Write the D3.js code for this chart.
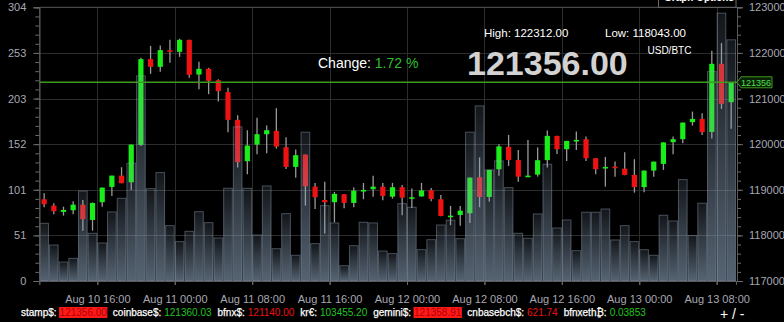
<!DOCTYPE html>
<html>
<head>
<meta charset="utf-8">
<script src="https://cdn.jsdelivr.net/npm/d3@7"></script>
<style>
  html, body { margin: 0; padding: 0; background: #000; overflow: hidden; }
  svg { display: block; }
  text { font-family: "Liberation Sans", Arial, sans-serif; }
</style>
</head>
<body>
<svg id="chart" width="784" height="322"></svg>
<script>
// hourly candles, Aug 10 10:00 -> Aug 13 09:00 (UTC)
var startTime = new Date(Date.UTC(2025, 7, 10, 10));
var endTime = new Date(Date.UTC(2025, 7, 13, 10));

var opens = [118792,118652,118514,118551,118674,118338,118727,119062,119310,119165,119984,121864,121695,122061,122024,122287,121526,121651,121403,121140,120532,119626,119990,120218,
  120291,119933,119501,119771,119069,118777,118727,118902,118711,118981,119012,119069,118849,119056,118821,118854,118990,118792,118419,118448,118485,119275,118843,119450,
  119940,119654,119288,119332,119650,120181,119889,120080,120109,119692,119486,119508,119464,119325,119058,119420,119567,120043,120109,120482,120554,120269,121761,120920];
var highs = [118924,118705,118630,118748,118777,118720,119047,119310,119494,119990,121892,122155,122162,122287,122312,122290,121804,121673,121425,121234,120635,120306,120576,120407,
  120789,120153,119880,119775,119150,119178,118952,118905,119047,119150,119310,119150,119150,119106,119029,119150,119040,118887,118645,118645,119270,119709,119440,119999,
  120203,119874,120093,119929,120297,120185,120075,120275,120166,119695,119720,119617,119823,119670,119425,119620,120040,120166,120475,120714,120679,122046,122215,121356];
var lows = [118617,118463,118433,118463,118103,118103,118630,118865,119143,118996,119962,121541,121585,121782,121914,121453,121205,121096,120933,120262,119486,119341,119780,119801,
  119902,119457,119266,118652,118580,118043,118288,118595,118617,118792,118849,118770,118805,118441,118601,118849,118748,118420,118222,118213,118272,118617,118740,119310,
  119523,119178,119275,119288,119486,119786,119633,119874,119633,119341,119069,119288,119320,118937,118946,119288,119435,119780,120021,120407,120203,120126,120773,120335];
var closes = [118683,118529,118558,118674,118354,118711,119047,119310,119143,119990,121864,121695,122061,122024,122287,121519,121651,121388,121162,120532,119604,119968,120218,120306,
  119946,119501,119758,119078,118836,118727,118909,118711,118981,118996,119069,118865,119056,118827,118836,118985,118799,118426,118433,118542,119266,118843,119435,119951,
  119654,119288,119310,119648,120181,119889,120071,120093,119692,119450,119501,119490,119325,119058,119420,119617,120038,120109,120473,120554,120262,121761,120883,121356];
var volumes = [64.1,40,21.1,25.2,100,53,42.2,76.7,91.9,130.8,227.9,102.6,120.4,61.5,43.7,55.2,77,64.8,47.8,103,171.2,103,51.1,105.6,
  35.9,74.8,28.6,165.3,41.5,83.7,64.5,17,39.2,65.2,64.5,33.3,30.4,85.9,81.9,34.8,45.9,62.2,67.5,47,165.3,194.5,123.4,133.4,
  103.7,53,47.5,74.5,129.7,58.9,67.8,33.7,76.4,76.4,80,45.6,61.5,43.7,34.8,28.6,73,66.7,112.6,50.4,86.4,232.6,297.5,267.9];

var priceDomain = [117000, 123000];
var volumeMax = 304;
var lastPrice = 121356;

var tickerLabels = ["stamp$:", "coinbase$:", "bfnx$:", "kr\u20ac:", "gemini$:", "cnbasebch$:", "bfnxeth\u20bf:"];
var tickerValues = ["121356.00", "121360.03", "121140.00", "103455.20", "121358.91", "621.74", "0.03853"];
var tickerStates = ["flash", "up", "down", "up", "flash", "down", "up"];

var cfg = {
  left: 39.3, right: 736, top: 7.3, bottom: 281,
  green: "#1aee1a", red: "#ee1212", wick: "#9a9a9a",
  grid: "#2c2c2c", axis: "#5a5a5a", label: "#a8a8b4"
};

var times = d3.utcHour.range(startTime, endTime);
var candles = times.map(function(t, i){
  return { t: t, o: opens[i], h: highs[i], l: lows[i], c: closes[i], v: volumes[i] };
});

var svg = d3.select("#chart");

var x = d3.scaleUtc().domain([startTime, endTime]).range([cfg.left, cfg.right]);
var y = d3.scaleLinear().domain(priceDomain).range([cfg.bottom, cfg.top]);
var yv = d3.scaleLinear().domain([0, volumeMax]).range([cfg.bottom, cfg.top]);
var slot = x(d3.utcHour.offset(startTime, 1)) - x(startTime);

var timeTicks = d3.utcHour.every(8).range(d3.utcHour.offset(startTime, 1), endTime);
var priceTicks = d3.range(priceDomain[0], priceDomain[1] + 1, 1000);
var volTicks = d3.range(7).map(function(k){ return volumeMax * k / 6; });

// grid
var grid = svg.append("g").attr("class", "grid");
grid.selectAll(".hgrid").data(priceTicks.slice(1, -1)).enter().append("line")
  .attr("x1", cfg.left).attr("x2", cfg.right)
  .attr("y1", function(d){ return Math.round(y(d)) + 0.5; })
  .attr("y2", function(d){ return Math.round(y(d)) + 0.5; })
  .attr("stroke", cfg.grid);
grid.selectAll(".vgrid").data(timeTicks).enter().append("line")
  .attr("y1", cfg.top).attr("y2", cfg.bottom)
  .attr("x1", function(d){ return Math.round(x(d)) + 0.5; })
  .attr("x2", function(d){ return Math.round(x(d)) + 0.5; })
  .attr("stroke", cfg.grid);

// candles
function candleX(d){ return x(d.t) + slot / 2; }
var candleG = svg.append("g").attr("class", "candles");
candleG.selectAll(".wick").data(candles).enter().append("line")
  .attr("x1", candleX).attr("x2", candleX)
  .attr("y1", function(d){ return y(d.h); })
  .attr("y2", function(d){ return y(d.l); })
  .attr("stroke", cfg.wick).attr("stroke-width", 1.3);
candleG.selectAll(".body").data(candles).enter().append("rect")
  .attr("x", function(d){ return candleX(d) - 2.6; })
  .attr("width", 5.2)
  .attr("y", function(d){ return y(Math.max(d.o, d.c)); })
  .attr("height", function(d){ return Math.max(1.6, Math.abs(y(d.o) - y(d.c))); })
  .attr("fill", function(d){ return d.c >= d.o ? cfg.green : cfg.red; });

// volume bars
var defs = svg.append("defs");
var grad = defs.append("linearGradient").attr("id", "volGrad")
  .attr("x1", 0).attr("y1", 0).attr("x2", 0).attr("y2", 1);
grad.append("stop").attr("offset", "0%").attr("stop-color", "#8aa0b8").attr("stop-opacity", 0.14);
grad.append("stop").attr("offset", "100%").attr("stop-color", "#8aa0b8").attr("stop-opacity", 0.62);

svg.append("g").attr("class", "volume").selectAll("rect").data(candles).enter().append("rect")
  .attr("x", function(d){ return x(d.t) + 0.5; })
  .attr("width", slot - 1)
  .attr("y", function(d){ return yv(d.v); })
  .attr("height", function(d){ return cfg.bottom - yv(d.v); })
  .attr("fill", "url(#volGrad)")
  .attr("stroke", "#8da2b8").attr("stroke-opacity", 0.45).attr("stroke-width", 1);

// last price line
svg.append("line")
  .attr("x1", cfg.left).attr("x2", cfg.right + 1)
  .attr("y1", y(lastPrice)).attr("y2", y(lastPrice))
  .attr("stroke", "#3c9a1e").attr("stroke-width", 1.4);

// axes
function styleAxis(g){
  g.select(".domain").attr("stroke", cfg.axis);
  g.selectAll(".tick line").attr("stroke", "#6a6a6a");
  g.selectAll(".tick text").attr("fill", cfg.label)
    .style("font-family", "Liberation Sans, Arial, sans-serif").style("font-size", "11px");
}

var minorVol = d3.range(31).map(function(k){ return volumeMax * k / 30; });
svg.append("g").attr("transform", "translate(" + cfg.left + ",0)")
  .call(d3.axisLeft(yv).tickValues(minorVol).tickSize(4).tickFormat(""))
  .call(styleAxis);
svg.append("g").attr("transform", "translate(" + cfg.left + ",0)")
  .call(d3.axisLeft(yv).tickValues(volTicks).tickSize(6).tickPadding(7).tickFormat(d3.format(".0f")))
  .call(styleAxis);

var minorPrice = d3.range(priceDomain[0], priceDomain[1] + 1, 200);
svg.append("g").attr("transform", "translate(" + (cfg.right + 1) + ",0)")
  .call(d3.axisRight(y).tickValues(minorPrice).tickSize(4).tickFormat(""))
  .call(styleAxis);
svg.append("g").attr("transform", "translate(" + (cfg.right + 1) + ",0)")
  .call(d3.axisRight(y).tickValues(priceTicks).tickSize(6).tickPadding(6).tickFormat(d3.format("d")))
  .call(styleAxis);

var minorTime = d3.utcMinute.every(96).range(startTime, endTime).filter(function(t){
  return (t - timeTicks[0]) % (96 * 60000) === 0;
});
svg.append("g").attr("transform", "translate(0," + cfg.bottom + ")")
  .call(d3.axisBottom(x).tickValues(minorTime).tickSize(4).tickFormat(""))
  .call(styleAxis);
svg.append("g").attr("transform", "translate(0," + cfg.bottom + ")")
  .call(d3.axisBottom(x).tickValues(timeTicks).tickSize(4).tickPadding(10).tickFormat(d3.utcFormat("%b %d %H:%M")))
  .call(styleAxis);

// top border
svg.append("line").attr("x1", cfg.left).attr("x2", cfg.right + 1)
  .attr("y1", cfg.top).attr("y2", cfg.top).attr("stroke", cfg.axis);

// right price tag
var ly = y(lastPrice);
svg.append("path")
  .attr("d", "M" + (cfg.right + 1) + "," + ly + " L" + (cfg.right + 5) + "," + (ly - 5.5)
    + " L772," + (ly - 5.5) + " L772," + (ly + 5.5) + " L" + (cfg.right + 5) + "," + (ly + 5.5) + "Z")
  .attr("fill", "#0b1f08").attr("stroke", "#3c9a1e");
svg.append("text").attr("x", cfg.right + 5).attr("y", ly + 3.3)
  .attr("fill", "#4ee04e").style("font-size", "9px").text(d3.format("d")(lastPrice));

// header
var hdr = svg.append("g").attr("class", "header");
hdr.append("text").attr("x", 484).attr("y", 37.3).attr("fill", "#fff").style("font-size", "11.5px")
  .text("High: " + d3.max(highs).toFixed(2));
hdr.append("text").attr("x", 605).attr("y", 37.3).attr("fill", "#fff").style("font-size", "11.5px")
  .text("Low: " + d3.min(lows).toFixed(2));
hdr.append("text").attr("x", 647.5).attr("y", 54).attr("fill", "#fff").style("font-size", "10px")
  .text("USD/BTC");
hdr.append("text").attr("x", 467).attr("y", 75).attr("fill", "#d2d2d2")
  .style("font-size", "34px").style("font-weight", "bold")
  .text(lastPrice.toFixed(2));
var chg = hdr.append("text").attr("x", 318).attr("y", 68.3).style("font-size", "14px");
chg.append("tspan").attr("fill", "#fff").text("Change: ");
chg.append("tspan").attr("fill", "#2ebd2e").text("1.72 %");

// graph options button (mostly off the top)
svg.append("rect").attr("x", 658.5).attr("y", -20).attr("width", 77.5).attr("height", 27.3)
  .attr("fill", "#000").attr("stroke", "#6a6a6a");
svg.append("text").attr("x", 664).attr("y", 1).attr("fill", "#fff")
  .style("font-size", "10px").style("font-weight", "bold").text("Graph Options");

// ticker row
var tick = svg.append("g").attr("class", "ticker");
var tx = 21;
tickerLabels.forEach(function(lab, i){
  var t1 = tick.append("text").attr("x", tx).attr("y", 316).attr("fill", "#fff")
    .attr("stroke", "#fff").attr("stroke-width", 0.25)
    .style("font-size", "10px").text(lab);
  tx += t1.node().getComputedTextLength() + 3;
  var state = tickerStates[i];
  var t2 = tick.append("text").attr("x", tx).attr("y", 316).style("font-size", "10px")
    .attr("fill", state === "up" ? "#22c422" : state === "down" ? "#ee1111" : "#b00000")
    .text(tickerValues[i]);
  var w = t2.node().getComputedTextLength();
  if (state === "flash") {
    tick.insert("rect", function(){ return t2.node(); })
      .attr("x", tx - 0.5).attr("y", 307).attr("width", w + 1).attr("height", 11).attr("fill", "#ff1a1a");
  }
  tx += w + 6;
});
tick.append("text").attr("x", 720).attr("y", 319).attr("fill", "#fff")
  .style("font-size", "14px").text("+ / -");
</script>
</body>
</html>
